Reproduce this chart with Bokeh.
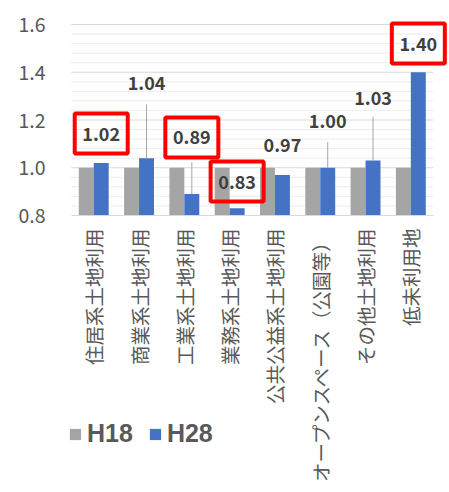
import math
import numpy as np
from bokeh.plotting import figure
from bokeh.models import Range1d, FixedTicker, PrintfTickFormatter, ColumnDataSource
from bokeh.core.properties import value
from bokeh.embed import file_html
from bokeh.resources import INLINE

# ---- data ----
categories = ["住居系土地利用", "商業系土地利用", "工業系土地利用", "業務系土地利用",
              "公共公益系土地利用", "オープンスペース（公園等）", "その他土地利用", "低未利用地"]
h18 = [1.00, 1.00, 1.00, 1.00, 1.00, 1.00, 1.00, 1.00]
h28 = [1.02, 1.04, 0.89, 0.83, 0.97, 1.00, 1.03, 1.40]
h28_labels = ["1.02", "1.04", "0.89", "0.83", "0.97", "1.00", "1.03", "1.40"]
y_ticks = [0.8, 1.0, 1.2, 1.4, 1.6]
minor_step = 0.04
series_names = ["H18", "H28"]

# label placement (data-unit heights of the data labels)
label_y = [1.143, 1.353, 1.127, 0.942, 1.097, 1.194, 1.294, 1.52]
leader_idx = [1, 2, 5, 6]
leader_top = [1.265, 1.023, 1.107, 1.212]
boxed_idx = [0, 2, 3, 7]

Y_MIN, Y_MAX = 0.8, 1.6
n = len(categories)
xs = np.arange(n)
off = 0.165
bw = 0.33

# ---- layout geometry (pixels) ----
W, H = 449, 492
FL, FR, FT, FB = 66, 448, 17, 492          # frame edges
PA_L, PA_R = 70.6, 433.0                   # plot-area (category) extent
PA_T, PA_B = 24.0, 215.0                   # y of Y_MAX and Y_MIN
ppx = (PA_R - PA_L) / n
ppy = (PA_B - PA_T) / (Y_MAX - Y_MIN)
x_start = -0.5 - (PA_L - FL) / ppx
x_end = n - 0.5 + (FR - PA_R) / ppx
y_end = Y_MAX + (PA_T - FT) / ppy
y_start = Y_MIN - (FB - PA_B) / ppy

p = figure(width=W, height=H, output_backend="svg", toolbar_location=None,
           x_range=Range1d(x_start, x_end), y_range=Range1d(y_start, y_end),
           min_border_left=FL, min_border_right=W - FR, min_border_top=FT, min_border_bottom=H - FB)
p.outline_line_color = None
p.background_fill_color = "white"
p.border_fill_color = "white"
p.xgrid.visible = False
p.ygrid.visible = False

# gridlines (major + minor) across the plot area
minor_vals = [v for v in np.round(np.arange(Y_MIN, Y_MAX + 1e-9, minor_step), 2)
              if not any(abs(v - t) < 1e-6 for t in y_ticks)]
p.segment(x0=-0.5, x1=n - 0.5, y0=minor_vals, y1=minor_vals, line_color="#ececec", line_width=1)
p.segment(x0=-0.5, x1=n - 0.5, y0=y_ticks[1:], y1=y_ticks[1:], line_color="#d9d9d9", line_width=1)

src_g = ColumnDataSource(dict(x=xs - off, top=h18))
src_b = ColumnDataSource(dict(x=xs + off, top=h28))
p.vbar(x="x", top="top", bottom=Y_MIN, width=bw, source=src_g,
       fill_color="#a5a5a5", line_color=None, legend_label=series_names[0])
p.vbar(x="x", top="top", bottom=Y_MIN, width=bw, source=src_b,
       fill_color="#4472c4", line_color=None, legend_label=series_names[1])

# leader lines
p.segment(x0=[xs[i] + off for i in leader_idx], y0=leader_top,
          x1=[xs[i] + off for i in leader_idx], y1=[h28[i] for i in leader_idx],
          line_color="#a6a6a6", line_width=1)

# data labels
p.text(x=xs + off, y=label_y, text=h28_labels, text_align="center", text_baseline="middle",
       text_font=value("Noto Sans CJK JP"), text_font_size="18px", text_font_style="bold",
       text_color="#404040")

# red boxes
p.rect(x=[xs[i] + off for i in boxed_idx], y=[label_y[i] for i in boxed_idx],
       width=53, height=40, width_units="screen", height_units="screen",
       fill_color=None, line_color="#ff0000", line_width=4)

# axes
p.yaxis.ticker = FixedTicker(ticks=y_ticks)
p.yaxis.formatter = PrintfTickFormatter(format="%.1f")
p.yaxis.axis_line_color = None
p.yaxis.major_tick_line_color = None
p.yaxis.minor_tick_line_color = None
p.yaxis.major_label_standoff = 15
p.yaxis.major_label_text_font = "Noto Sans CJK JP"
p.yaxis.major_label_text_font_size = "19.5px"
p.yaxis.major_label_text_color = "#595959"

p.xaxis.fixed_location = Y_MIN
p.xaxis.bounds = (-0.5, n - 0.5)
p.xaxis.ticker = FixedTicker(ticks=list(range(n)))
p.xaxis.major_label_overrides = {i: c for i, c in enumerate(categories)}
p.xaxis.major_label_orientation = math.pi / 2
p.xaxis.axis_line_color = "#d9d9d9"
p.xaxis.major_tick_line_color = None
p.xaxis.minor_tick_line_color = None
p.xaxis.major_label_standoff = 7
p.xaxis.major_label_text_font = "Noto Sans CJK JP"
p.xaxis.major_label_text_font_size = "19.5px"
p.xaxis.major_label_text_color = "#595959"

lg = p.legend[0]
lg.location = (2, 44)
lg.orientation = "horizontal"
lg.padding = 0
lg.margin = 0
lg.spacing = 15
lg.label_standoff = 5
lg.glyph_width = 14
lg.glyph_height = 14
lg.label_text_font = "Liberation Sans"
lg.label_text_font_style = "bold"
lg.label_text_font_size = "25px"
lg.label_text_color = "#595959"
lg.background_fill_alpha = 0
lg.border_line_color = None

open("out.html", "w").write(file_html(p, INLINE))
